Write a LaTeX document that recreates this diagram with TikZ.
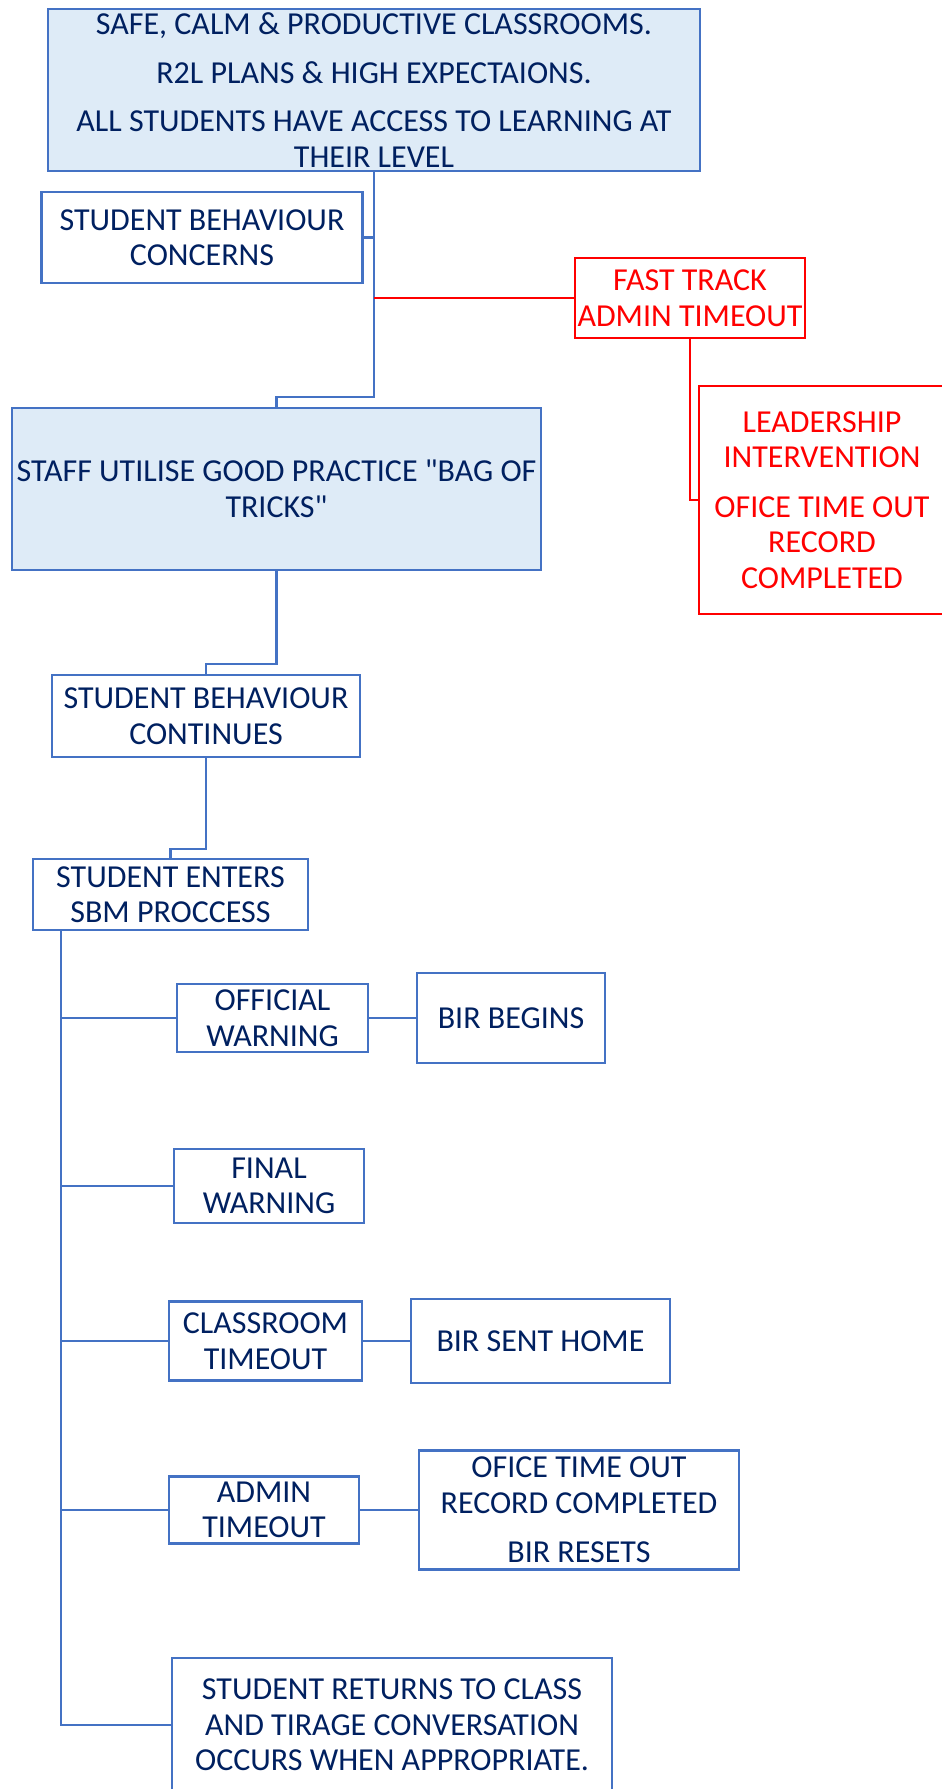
\documentclass[tikz,border=0pt]{standalone}
\usepackage{fontspec}
\setmainfont{Carlito}[Ligatures=TeXOff]
\usetikzlibrary{calc}

\definecolor{sbmblue}{HTML}{4472C4}
\definecolor{sbmfill}{HTML}{DEEBF7}
\definecolor{sbmtext}{HTML}{002060}
\definecolor{sbmred}{HTML}{FF0000}

\tikzset{
  box/.style={draw=sbmblue,line width=2.5pt,rectangle,inner sep=0pt,outer sep=0pt,
    align=center,text=sbmtext,font=\fontsize{32pt}{35.5pt}\selectfont},
  bigbox/.style={box,fill=sbmfill},
  redbox/.style={box,draw=sbmred,text=sbmred},
  link/.style={draw=sbmblue,line width=2.4pt},
  redlink/.style={draw=sbmred,line width=2.4pt}
}

\begin{document}
\begin{tikzpicture}[x=1pt,y=-1pt]
\useasboundingbox (0,0) rectangle (942,1789);

\node[bigbox,minimum width=652pt,minimum height=162pt] (top) at (374,90)
  {SAFE, CALM \& PRODUCTIVE CLASSROOMS.\\[13pt]R2L PLANS \& HIGH EXPECTAIONS.\\[13pt]ALL STUDENTS HAVE ACCESS TO LEARNING AT\\THEIR LEVEL};
\node[box,minimum width=321pt,minimum height=91pt] (concerns) at (202,237.5)
  {STUDENT BEHAVIOUR\\CONCERNS};
\node[redbox,minimum width=230pt,minimum height=80pt] (fasttrack) at (690,298)
  {FAST TRACK\\ADMIN TIMEOUT};
\node[redbox,minimum width=246pt,minimum height=228pt] (leadership) at (822,500)
  {LEADERSHIP\\INTERVENTION\\[14pt]OFICE TIME OUT\\RECORD\\COMPLETED};
\node[bigbox,minimum width=529pt,minimum height=162pt] (staff) at (276.5,489)
  {STAFF UTILISE GOOD PRACTICE "BAG OF\\TRICKS"};
\node[box,minimum width=308pt,minimum height=82pt] (continues) at (206,716)
  {STUDENT BEHAVIOUR\\CONTINUES};
\node[box,minimum width=275pt,minimum height=71pt] (enters) at (170.5,894.5)
  {STUDENT ENTERS\\SBM PROCCESS};
\node[box,minimum width=191pt,minimum height=68pt] (official) at (272.5,1018)
  {OFFICIAL\\WARNING};
\node[box,minimum width=188pt,minimum height=90pt] (birbegins) at (511,1018)
  {BIR BEGINS};
\node[box,minimum width=190pt,minimum height=74pt] (final) at (269,1186)
  {FINAL\\WARNING};
\node[box,minimum width=193pt,minimum height=79pt] (classroom) at (265.5,1341)
  {CLASSROOM\\TIMEOUT};
\node[box,minimum width=259pt,minimum height=84pt] (senthome) at (540.5,1341)
  {BIR SENT HOME};
\node[box,minimum width=190pt,minimum height=67pt] (admin) at (264,1510)
  {ADMIN\\TIMEOUT};
\node[box,minimum width=320pt,minimum height=119pt] (office) at (579,1510)
  {OFICE TIME OUT\\RECORD COMPLETED\\[14pt]BIR RESETS};
\node[box,minimum width=440pt,minimum height=134pt] (returns) at (392,1725)
  {STUDENT RETURNS TO CLASS\\AND TIRAGE CONVERSATION\\OCCURS WHEN APPROPRIATE.};

\coordinate (spine) at ($(enters.south west)+(28,0)$);

\draw[link] (top.south) -- ++(0,226) -| (staff.north);
\draw[link] (concerns.east) -- (concerns.east -| top.south);
\draw[redlink] (fasttrack.west) -- (fasttrack.west -| top.south);
\draw[redlink] (fasttrack.south) |- (leadership.west);
\draw[link] (staff.south) -- ++(0,94) -| (continues.north);
\draw[link] (continues.south) -- ++(0,92) -| (enters.north);
\draw[link] (spine) |- (returns.west);
\draw[link] (official.west) -- (official.west -| spine);
\draw[link] (final.west) -- (final.west -| spine);
\draw[link] (classroom.west) -- (classroom.west -| spine);
\draw[link] (admin.west) -- (admin.west -| spine);
\draw[link] (official.east) -- (birbegins.west);
\draw[link] (classroom.east) -- (senthome.west);
\draw[link] (admin.east) -- (office.west);
\end{tikzpicture}
\end{document}
